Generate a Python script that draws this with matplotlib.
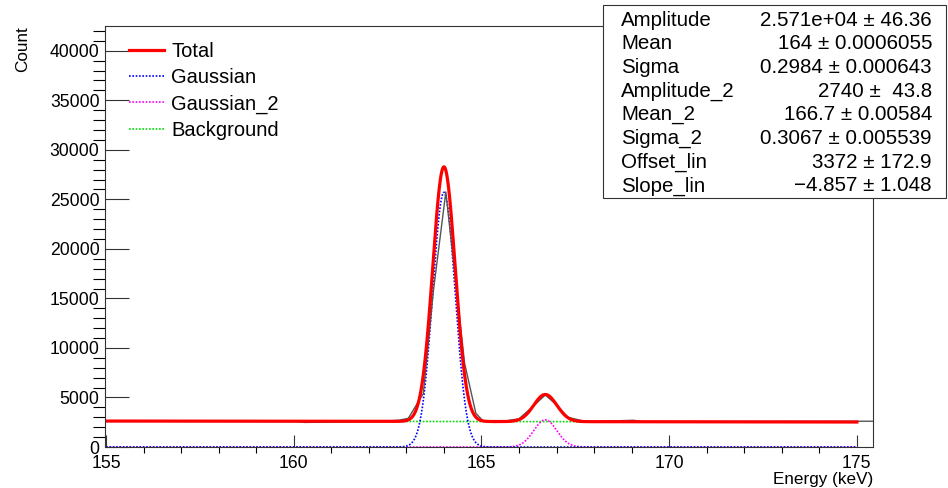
import numpy as np
import matplotlib
matplotlib.use("Agg")
import matplotlib.pyplot as plt
from matplotlib.patches import Rectangle
from matplotlib.ticker import MultipleLocator

plt.rcParams['font.family'] = ['Liberation Sans', 'DejaVu Sans']

# Fit parameters (from the stats box)
amp1, mean1, sigma1 = 2.571e4, 164.0, 0.2984
amp2, mean2, sigma2 = 2740.0, 166.7, 0.3067
offset_lin, slope_lin = 3372.0, -4.857

data_x = [154.97, 160.05, 160.3, 162.3, 162.8, 163.05, 163.45, 163.72, 164.05,
          164.55, 164.85, 165.05, 165.6, 166.0, 166.3, 166.7, 167.0, 167.3, 167.8,
          169.05, 169.3, 174.5, 175.43]
data_y = [2600, 2580, 2480, 2600, 2700, 2900, 5400, 15800, 25750,
          8450, 3400, 2600, 2600, 2850, 3850, 5250, 4250, 3000, 2550,
          2700, 2560, 2600, 2600]

# Stats box rows
stat_names = ["Amplitude", "Mean", "Sigma", "Amplitude_2", "Mean_2",
              "Sigma_2", "Offset_lin", "Slope_lin"]
stat_values = ["2.571e+04 \u00b1 46.36", "164 \u00b1 0.0006055",
               "0.2984 \u00b1 0.000643", "2740 \u00b1  43.8",
               "166.7 \u00b1 0.00584", "0.3067 \u00b1 0.005539",
               "3372 \u00b1 172.9", "\u22124.857 \u00b1 1.048"]

x = np.linspace(155, 175, 2000)
bg = offset_lin + slope_lin * x
g1 = amp1 * np.exp(-0.5 * ((x - mean1) / sigma1) ** 2)
g2 = amp2 * np.exp(-0.5 * ((x - mean2) / sigma2) ** 2)
total = bg + g1 + g2

W, H = 948, 488
fig = plt.figure(figsize=(W / 100, H / 100), dpi=100)
ax = fig.add_axes([105 / W, 1 - 447 / H, 768 / W, 421 / H])

ax.plot(x, bg, color="#00dd00", lw=1.2, ls=(0, (1, 1)), label="Background")
ax.plot(x, g2, color="#ff00ff", lw=1.2, ls=(0, (1, 1)), label="Gaussian_2")
ax.plot(x, g1, color="#0000ff", lw=1.2, ls=(0, (1, 1)), label="Gaussian")
ax.plot(data_x, data_y, color="#555555", lw=1.0)
ax.plot(x, total, color="#ff0000", lw=2.3, label="Total")

ax.set_xlim(154.97, 175.43)
ax.set_ylim(0, 42500)

ax.xaxis.set_major_locator(MultipleLocator(5))
ax.xaxis.set_minor_locator(MultipleLocator(1))
ax.yaxis.set_major_locator(MultipleLocator(5000))
ax.yaxis.set_minor_locator(MultipleLocator(1000))
ax.tick_params(axis="both", direction="in", labelsize=12.7, color="#333333")
ax.tick_params(axis="y", which="major", length=17, width=0.8, pad=4)
ax.tick_params(axis="y", which="minor", length=8.6, width=0.8)
ax.tick_params(axis="x", which="major", length=9, width=0.8, pad=6)
ax.tick_params(axis="x", which="minor", length=4.5, width=0.8)
for s in ax.spines.values():
    s.set_linewidth(0.8)
    s.set_color("#333333")

ax.set_xlabel("Energy (keV)", fontsize=12.3, loc="right", labelpad=0)
ax.set_ylabel("Count", fontsize=12.3, loc="top", labelpad=14)

h, l = ax.get_legend_handles_labels()
order = [3, 2, 1, 0]
ax.legend([h[i] for i in order], [l[i] for i in order], loc="upper left",
          bbox_to_anchor=(129 / W, 1 - 42 / H), bbox_transform=fig.transFigure,
          frameon=False, fontsize=14.5, handlelength=1.75, handletextpad=0.35,
          labelspacing=0.36, borderpad=0, borderaxespad=0)

# Stats box
fig.add_artist(Rectangle((603 / W, 1 - 198 / H), (946 - 603) / W, (198 - 5) / H,
                         transform=fig.transFigure, facecolor="white",
                         edgecolor="#333333", lw=0.8, zorder=5))
for i, (n, v) in enumerate(zip(stat_names, stat_values)):
    yy = 1 - (20 + i * 23.7) / H
    fig.text(621 / W, yy, n, fontsize=14.8, va="center", ha="left", zorder=6)
    fig.text(932 / W, yy, v, fontsize=14.8, va="center", ha="right", zorder=6)

fig.savefig("out.png", dpi=100)
